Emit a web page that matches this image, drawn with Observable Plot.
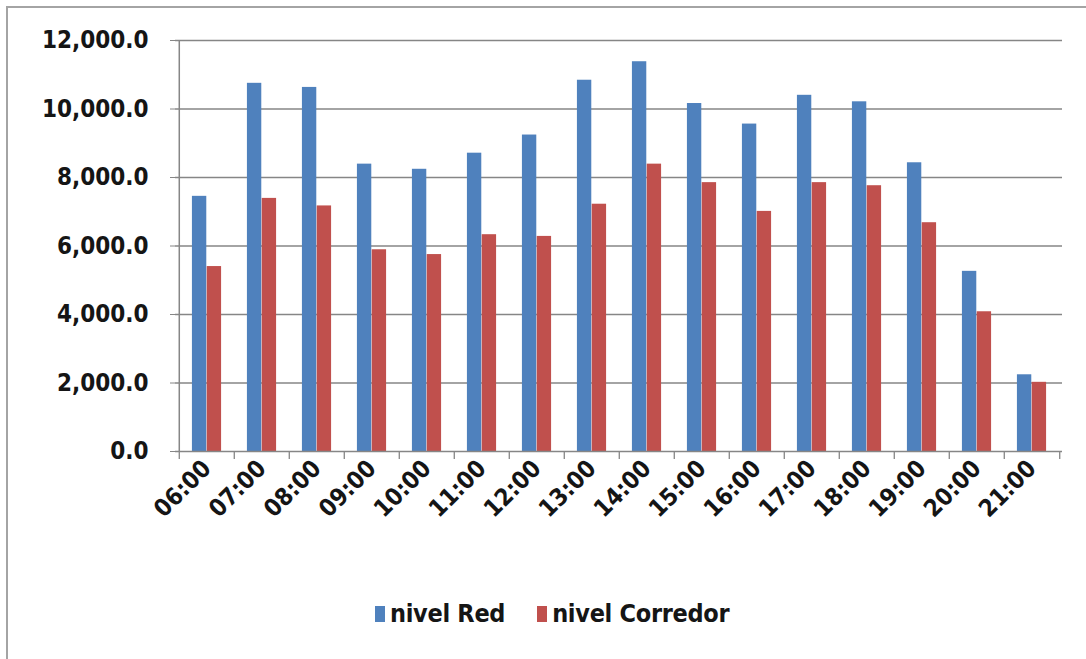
<!DOCTYPE html>
<html>
<head>
<meta charset="utf-8">
<script src="https://cdn.jsdelivr.net/npm/d3@7"></script>
<script src="https://cdn.jsdelivr.net/npm/@observablehq/plot@0.6"></script>
<style>
  html, body { margin: 0; padding: 0; background: #fff; }
  #wrap { position: relative; width: 1086px; height: 659px; overflow: hidden; font-family: "DejaVu Sans Condensed", "DejaVu Sans", sans-serif; font-stretch: condensed; }
  #frame { position: absolute; left: 6px; top: 6px; width: 1100px; height: 700px; border-top: 2px solid #a4a4a4; border-left: 2px solid #a4a4a4; }
  #chart { position: absolute; left: 0; top: 0; }
  #legend { position: absolute; left: 375px; top: 599px; display: flex; align-items: center; font-size: 25px; font-weight: bold; color: #151515; letter-spacing: -0.3px; }
  .sw { display: inline-block; width: 10px; height: 16px; margin-right: 5px; }
  .item { display: flex; align-items: center; margin-right: 32px; }
  svg text { font-stretch: condensed; }
</style>
</head>
<body>
<div id="wrap">
  <div id="frame"></div>
  <div id="chart"></div>
  <div id="legend"></div>
</div>
<script>
const hours = ["06:00","07:00","08:00","09:00","10:00","11:00","12:00","13:00","14:00","15:00","16:00","17:00","18:00","19:00","20:00","21:00"];
const nivelRed = [7450, 10750, 10630, 8390, 8240, 8710, 9240, 10840, 11380, 10160, 9560, 10400, 10210, 8430, 5260, 2240];
const nivelCorredor = [5400, 7390, 7170, 5890, 5750, 6330, 6280, 7220, 8390, 7850, 7010, 7850, 7760, 6680, 4080, 2020];
const seriesNames = ["nivel Red", "nivel Corredor"];
const seriesColors = ["#4F81BD", "#C0504D"];
const yTicks = [0, 2000, 4000, 6000, 8000, 10000, 12000];

const W = 1086, H = 560;
const mL = 175, mR = 24, mT = 40, mB = H - 451;
const step = (W - mL - mR) / hours.length;

const redData = hours.map((h, i) => ({hour: h, value: nivelRed[i]}));
const corData = hours.map((h, i) => ({hour: h, value: nivelCorredor[i]}));
const boundaries = hours.map((h) => ({hour: h, side: -1})).concat([{hour: hours[hours.length - 1], side: 1}]);

const barW = 14.8;
const gapL = (step - 2 * barW) / 2;

const chart = Plot.plot({
  width: W,
  height: H,
  marginLeft: mL,
  marginRight: mR,
  marginTop: mT,
  marginBottom: mB,
  style: {fontFamily: "'DejaVu Sans Condensed', 'DejaVu Sans', sans-serif", background: "transparent", color: "#151515"},
  x: {domain: hours, padding: 0, label: null},
  y: {domain: [0, 12000], label: null},
  marks: [
    Plot.ruleY(yTicks.filter(d => d > 0), {stroke: "#868686", strokeWidth: 1.4, strokeOpacity: 1}),
    Plot.barY(redData, {x: "hour", y: "value", fill: seriesColors[0], insetLeft: gapL, insetRight: step - gapL - barW}),
    Plot.barY(corData, {x: "hour", y: "value", fill: seriesColors[1], insetLeft: gapL + barW, insetRight: gapL}),
    Plot.ruleX(boundaries.filter(d => d.side < 0), {x: "hour", y1: 0, y2: 0, insetBottom: -8, dx: -step / 2, stroke: "#868686", strokeWidth: 1.3}),
    Plot.ruleX(boundaries.filter(d => d.side > 0), {x: "hour", y1: 0, y2: 0, insetBottom: -8, dx: step / 2, stroke: "#868686", strokeWidth: 1.3}),
    Plot.ruleY([0], {stroke: "#868686", strokeWidth: 1.5}),
    Plot.ruleX([0], {x: () => hours[0], dx: -step / 2, y1: 0, y2: 12000, stroke: "#868686", strokeWidth: 1.5}),
    Plot.axisY({ticks: yTicks, tickFormat: d3.format(",.1f"), tickSize: 5, tickPadding: 22, fontSize: 24, fontWeight: "bold", stroke: "#868686", anchor: "left"}),
    Plot.axisX({tickRotate: -45, tickSize: 0, tickPadding: 13, fontSize: 24, fontWeight: "bold"})
  ]
});
document.getElementById("chart").appendChild(chart);

const legend = document.getElementById("legend");
seriesNames.forEach((name, i) => {
  const item = document.createElement("div");
  item.className = "item";
  const sw = document.createElement("span");
  sw.className = "sw";
  sw.style.background = seriesColors[i];
  item.appendChild(sw);
  const t = document.createElement("span");
  t.textContent = name;
  item.appendChild(t);
  legend.appendChild(item);
});
</script>
</body>
</html>
